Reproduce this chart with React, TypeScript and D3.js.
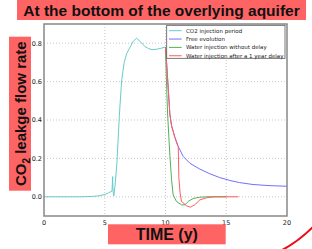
import React from "react";
import * as d3 from "d3";

const xTicks = [0, 5, 10, 15, 20];
const yTicks = [0.0, 0.2, 0.4, 0.6, 0.8];
const yTickLabels = ["0.0", "0.2", "0.4", "0.6", "0.8"];

const injT = [0, 1, 2, 3, 4, 4.5, 5.0, 5.3, 5.6, 5.65, 5.68, 5.75, 5.85, 6.0, 6.1, 6.2, 6.3, 6.4, 6.6, 6.8, 7.0, 7.35, 7.62, 7.9, 8.3, 8.6, 8.9, 9.4, 9.7, 10.0];
const injV = [0, 0, 0, 0, 0.002, 0.005, 0.012, 0.02, 0.03, 0.105, 0.03, 0.005, 0.06, 0.175, 0.3, 0.42, 0.52, 0.61, 0.70, 0.745, 0.77, 0.81, 0.826, 0.81, 0.783, 0.772, 0.766, 0.77, 0.775, 0.78];

const freeT = [10, 10.05, 10.15, 10.36, 10.5, 10.77, 11.05, 11.46, 12, 12.83, 13.65, 14.47, 15.3, 16.1, 17.2, 18.6, 20];
const freeV = [0.78, 0.74, 0.64, 0.43, 0.37, 0.31, 0.262, 0.21, 0.175, 0.144, 0.12, 0.10, 0.085, 0.074, 0.064, 0.058, 0.055];

const noDelayT = [10, 10.08, 10.17, 10.36, 10.5, 10.63, 10.9, 11.32, 11.6, 11.87, 12.28, 12.83, 13.5, 15];
const noDelayV = [0.78, 0.6, 0.436, 0.215, 0.089, 0.01, -0.024, -0.042, -0.042, -0.024, -0.009, -0.002, 0, 0];

const delayT = [10, 10.05, 10.15, 10.36, 10.5, 10.77, 11.0, 11.05, 11.1, 11.2, 11.32, 11.73, 12.06, 12.4, 12.83, 13.38, 14, 16];
const delayV = [0.78, 0.74, 0.64, 0.43, 0.37, 0.31, 0.266, 0.262, 0.1, 0.02, -0.024, -0.047, -0.054, -0.042, -0.016, -0.005, 0, 0];

const seriesNames = ["CO2 injection period", "Free evolution", "Water injection without delay", "Water injection after a 1 year delay"];
const seriesColors = ["#66cccc", "#7070ff", "#55b055", "#ff5c5c"];

const W = 312, H = 249;
const x = d3.scaleLinear().domain([0, 20]).range([44, 287]);
const y = d3.scaleLinear().domain([-0.1, 0.9]).range([216, 24]);

const line = d3.line<[number, number]>().x(d => x(d[0])).y(d => y(d[1]));
const zip = (a: number[], b: number[]) => a.map((t, i) => [t, b[i]] as [number, number]);

export default function App() {
  const series = [zip(injT, injV), zip(freeT, freeV), zip(noDelayT, noDelayV), zip(delayT, delayV)];
  const [x0, x1] = x.range();
  const [y0, y1] = y.range();
  return (
    <svg width={W} height={H} style={{ position: "absolute", left: 0, top: 0, background: "#fff" }} fontFamily="DejaVu Sans, sans-serif">
      {/* grid */}
      {xTicks.slice(1, -1).map(t => (
        <line key={"gx" + t} x1={x(t)} x2={x(t)} y1={y1} y2={y0} stroke="#bbb" strokeWidth={0.8} strokeDasharray="1,2" />
      ))}
      {yTicks.map(t => (
        <line key={"gy" + t} x1={x0} x2={x1} y1={y(t)} y2={y(t)} stroke="#bbb" strokeWidth={0.8} strokeDasharray="1,2" />
      ))}
      {/* lines */}
      {series.map((s, i) => (
        <path key={i} d={line(s) || ""} fill="none" stroke={seriesColors[i]} strokeWidth={1} />
      ))}
      {/* frame */}
      <rect x={x0} y={y1} width={x1 - x0} height={y0 - y1} fill="none" stroke="#888" strokeWidth={1.5} />
      {/* tick labels */}
      {xTicks.map(t => (
        <text key={"xl" + t} x={x(t)} y={y0 + 9} fontSize={6.5} textAnchor="middle" fill="#222">{t}</text>
      ))}
      {yTicks.map((t, i) => (
        <text key={"yl" + t} x={x0 - 2} y={y(t) + 2.3} fontSize={6.5} textAnchor="end" fill="#222">{yTickLabels[i]}</text>
      ))}
      {/* legend */}
      <rect x={166.7} y={25.3} width={118.3} height={33} fill="#fff" stroke="#555" strokeWidth={0.8} />
      {seriesNames.map((n, i) => (
        <g key={n}>
          <line x1={169} x2={181.7} y1={30.7 + i * 8.35} y2={30.7 + i * 8.35} stroke={seriesColors[i]} strokeWidth={1} />
          <text x={186} y={30.7 + i * 8.35 + 2} fontSize={5.5} fill="#222">{n}</text>
        </g>
      ))}
      {/* title */}
      <rect x={17} y={0} width={289} height={20} fill="#fe6464" />
      <text x={161.5} y={15.5} fontSize={15.5} fontWeight="bold" textAnchor="middle" fontFamily="Liberation Sans, Arial, sans-serif" fill="#111">At the bottom of the overlying aquifer</text>
      {/* y label */}
      <rect x={9} y={36.7} width={22} height={154} fill="#fe6464" />
      <text transform="translate(26,113.7) rotate(-90)" textAnchor="middle" fontSize={15} fontWeight="bold" fontFamily="Liberation Sans, Arial, sans-serif" fill="#111">
        CO<tspan fontSize={10} dy={4}>2</tspan><tspan dy={-4}> leakge flow rate</tspan>
      </text>
      {/* x label */}
      <rect x={108} y={224.3} width={117.7} height={20} fill="#fe6464" />
      <text x={166.8} y={240} textAnchor="middle" fontSize={16} fontWeight="bold" fontFamily="Liberation Sans, Arial, sans-serif" fill="#111">TIME (y)</text>
      {/* decorative arc */}
      <path d="M280,251 Q297,243 314,226" fill="none" stroke="#e8101a" strokeWidth={2} />
    </svg>
  );
}
